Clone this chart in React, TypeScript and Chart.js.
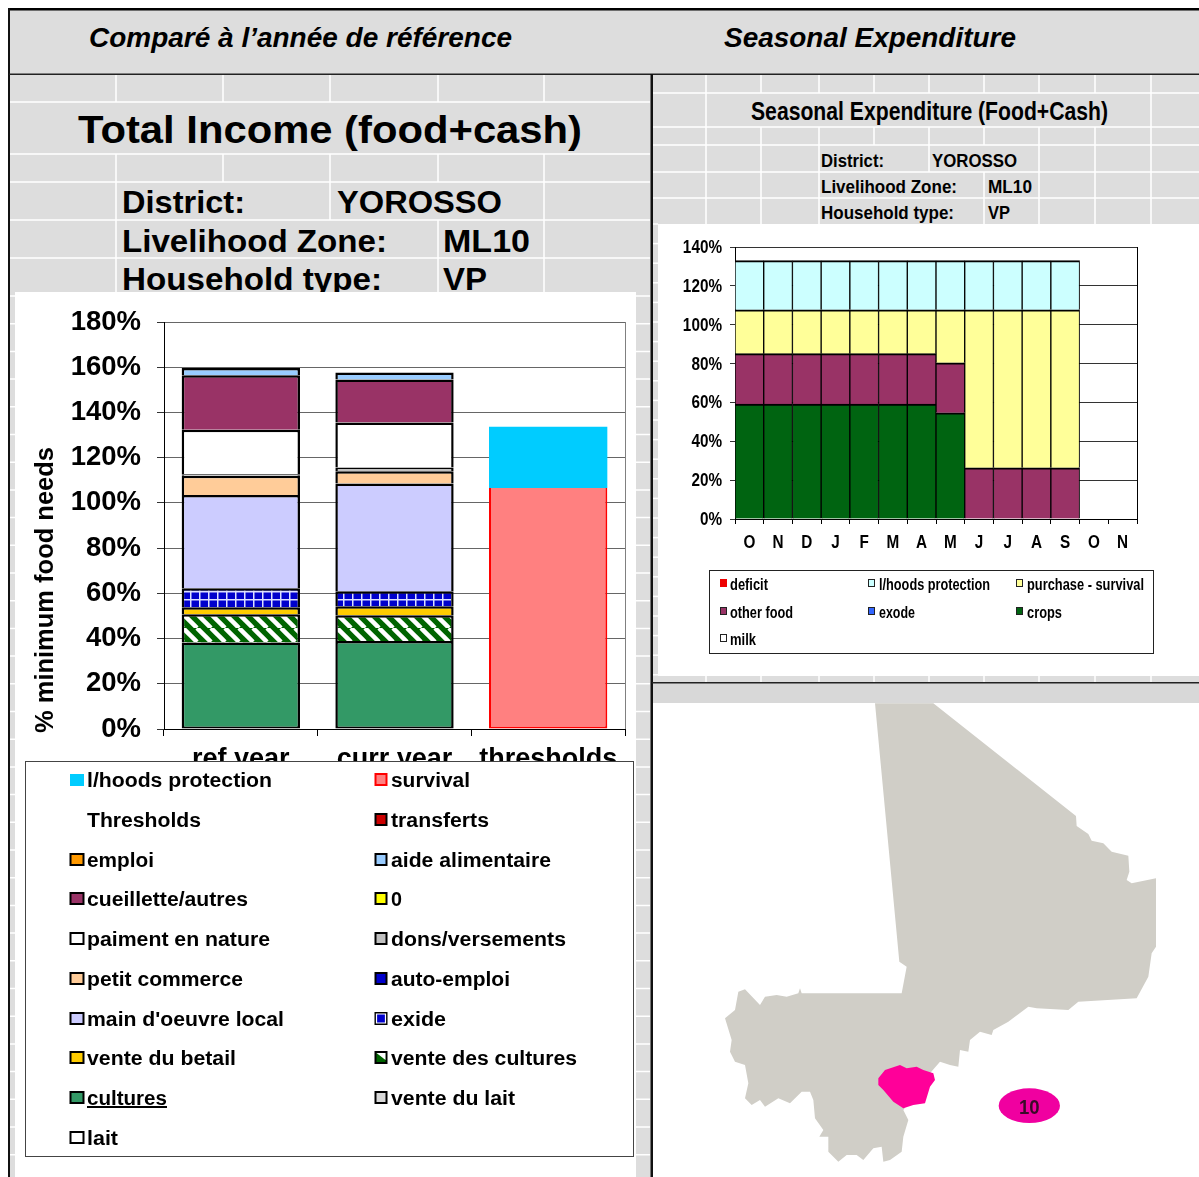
import React, { useEffect, useRef } from "react";
import { Chart, registerables } from "chart.js";

Chart.register(...registerables);

// ---------- Data: Total Income ----------
const incomeCategories = ["ref year", "curr year", "thresholds"];
const incomeTicks = [0, 20, 40, 60, 80, 100, 120, 140, 160, 180];
const lait = [0, 0, 0];
const cultures = [38.3, 38.9, 0];
const venteDuLait = [0, 0, 0];
const venteDesCultures = [12.4, 11.4, 0];
const venteDuBetail = [3.1, 4.0, 0];
const exide = [8.4, 6.6, 0];
const mainOeuvre = [41.3, 47.7, 0];
const autoEmploi = [0, 0, 0];
const petitCommerce = [8.5, 5.4, 0];
const donsVersements = [0.7, 1.7, 0];
const paimentNature = [19.7, 19.8, 0];
const zeroSeries = [0, 0, 0];
const cueillette = [24.1, 19.1, 0];
const aideAlimentaire = [3.2, 3.1, 0];
const emploi = [0, 0, 0];
const transferts = [0, 0, 0];
const survivalThreshold = [0, 0, 106.6];
const lhoodsThreshold = [0, 0, 27.1];

// ---------- Data: Seasonal Expenditure ----------
const months = ["O", "N", "D", "J", "F", "M", "A", "M", "J", "J", "A", "S", "O", "N"];
const crops = [59.2, 59.2, 59.2, 59.2, 59.2, 59.2, 59.2, 54.7, 0, 0, 0, 0, 0, 0];
const milk = [0, 0, 0, 0, 0, 0, 0, 0, 0, 0, 0, 0, 0, 0];
const exode = [0, 0, 0, 0, 0, 0, 0, 0, 0, 0, 0, 0, 0, 0];
const otherFood = [25.9, 25.9, 25.9, 25.9, 25.9, 25.9, 25.9, 25.7, 26.4, 26.4, 26.4, 26.4, 0, 0];
const purchaseSurvival = [22.6, 22.6, 22.6, 22.6, 22.6, 22.6, 22.6, 27.3, 81.3, 81.3, 81.3, 81.3, 0, 0];
const lhoodsProtection = [25.3, 25.3, 25.3, 25.3, 25.3, 25.3, 25.3, 25.3, 25.3, 25.3, 25.3, 25.3, 0, 0];
const deficit = [0, 0, 0, 0, 0, 0, 0, 0, 0, 0, 0, 0, 0, 0];

// ---------- Legend text ----------
const incomeLegendLeft = ["l/hoods protection", "Thresholds", "emploi", "cueillette/autres", "paiment en nature", "petit commerce", "main d'oeuvre local", "vente du betail", "cultures", "lait"];
const incomeLegendRight = ["survival", "transferts", "aide alimentaire", "0", "dons/versements", "auto-emploi", "exide", "vente des cultures", "vente du lait"];
const seasonLegend = ["deficit", "l/hoods protection", "purchase - survival", "other food", "exode", "crops", "milk"];

// ---------- Styles ----------
const SANS = '"Liberation Sans", Arial, sans-serif';
const GRAY = "#DDDDDD";

const swatchLeft: Record<string, string> = {
  "emploi": "#FF9900", "cueillette/autres": "#993366", "paiment en nature": "#FFFFFF", "petit commerce": "#FFCC99",
  "main d'oeuvre local": "#CCCCFF", "vente du betail": "#FFCC00", "cultures": "#339966", "lait": "#FFFFFF",
};
const swatchRight: Record<string, string> = {
  "survival": "#FF8080", "transferts": "#CC0000", "aide alimentaire": "#99CCFF", "0": "#FFFF00", "dons/versements": "#C0C0C0",
  "auto-emploi": "#0000CC", "exide": "#0000CC", "vente des cultures": "#006400", "vente du lait": "#D8D8D8",
};
const widthLeft = [185, 114, 67, 161, 183, 156, 197, 149, 80, 31];
const widthRight = [79, 98, 160, 11, 175, 119, 55, 186, 124];
const rowY = [780, 820, 860, 899, 939, 979, 1019, 1058, 1098, 1138];

const seasonColors: Record<string, string> = {
  "deficit": "#EE0000", "l/hoods protection": "#CCFFFF", "purchase - survival": "#FFFF99",
  "other food": "#993366", "exode": "#3366FF", "crops": "#006411", "milk": "#FFFFFF",
};
const seasonLayout = [
  [720, 730, 38, 584], [868, 879, 111, 584], [1016, 1027, 117, 584],
  [720, 730, 63, 612], [868, 879, 36, 612], [1016, 1027, 35, 612],
  [720, 730, 26, 639],
];

const leftColsX = [116, 223, 330, 438, 544];
const rightColsX = [706, 761, 819, 874, 929, 984, 1039, 1095, 1151];
const gutterLeftY = Array.from({ length: 32 }, (_, i) => 296 + i * 27.7);
const gutterRightY = Array.from({ length: 24 }, (_, i) => 224 + i * 19.6);

const mapOutline = "525,40 700,40 1128,378 1130,408 1165,432 1175,452 1210,460 1235,485 1285,497 1288,545 1280,570 1295,580 1368,565 1368,770 1355,790 1345,860 1310,925 1135,935 1105,960 1010,955 985,950 925,995 880,1020 875,1035 840,1025 810,1050 805,1085 780,1080 775,1130 750,1125 720,1115 690,1150 610,1260 625,1290 610,1340 605,1385 570,1410 550,1415 545,1370 520,1375 490,1410 470,1395 440,1395 415,1415 385,1385 385,1340 358,1340 370,1320 345,1285 340,1230 330,1205 305,1205 270,1240 235,1225 195,1250 180,1230 155,1245 135,1225 145,1180 135,1125 105,1115 90,1085 95,1050 75,985 105,960 115,905 135,898 180,945 195,920 230,915 260,920 295,910 300,895 305,910 605,910 620,830 598,815";
const mapZone = "535,1165 555,1140 600,1125 620,1135 650,1130 670,1140 700,1150 705,1170 690,1190 675,1240 640,1245 610,1255 580,1235 550,1200 535,1185";

function makeDiagonalPattern(): CanvasPattern {
  const c = document.createElement("canvas");
  c.width = 14; c.height = 14;
  const g = c.getContext("2d")!;
  g.fillStyle = "#006400"; g.fillRect(0, 0, 14, 14);
  g.strokeStyle = "#FFFFFF"; g.lineWidth = 4.5;
  for (const o of [-14, 0, 14]) {
    g.beginPath(); g.moveTo(o, 0); g.lineTo(o + 14, 14); g.stroke();
  }
  return g.createPattern(c, "repeat")!;
}
function makeGridPattern(): CanvasPattern {
  const c = document.createElement("canvas");
  c.width = 9; c.height = 8;
  const g = c.getContext("2d")!;
  g.fillStyle = "#0000CC"; g.fillRect(0, 0, 9, 8);
  g.fillStyle = "#DDE0FF"; g.fillRect(4, 0, 1.5, 8); g.fillRect(0, 3, 9, 1.5);
  return g.createPattern(c, "repeat")!;
}

const framePlugin = (color: string) => ({
  id: "frame",
  beforeDatasetsDraw(chart: any) {
    const { ctx, chartArea: a } = chart;
    ctx.save();
    ctx.strokeStyle = color;
    ctx.lineWidth = 1;
    ctx.beginPath();
    ctx.moveTo(a.right + 0.5, a.top);
    ctx.lineTo(a.right + 0.5, a.bottom);
    ctx.stroke();
    ctx.restore();
  },
});

// The original's small axis text is a horizontally squeezed Arial: draw it at the library's tick positions.
const squeezedTicksPlugin = {
  id: "squeezedTicks",
  afterDraw(chart: any) {
    const { ctx, scales } = chart;
    ctx.save();
    ctx.fillStyle = "#000";
    ctx.font = `bold 18px ${SANS}`;
    ctx.textBaseline = "middle";
    scales.y.ticks.forEach((t: any) => {
      ctx.save();
      ctx.translate(scales.y.right - 13, scales.y.getPixelForValue(t.value) + 1);
      ctx.scale(0.85, 1);
      ctx.textAlign = "right";
      ctx.fillText(t.value + "%", 0, 0);
      ctx.restore();
    });
    months.forEach((m, i) => {
      ctx.save();
      ctx.translate(scales.x.getPixelForTick(i), scales.x.top + 24);
      ctx.scale(0.85, 1);
      ctx.textAlign = "center";
      ctx.fillText(m, 0, 0);
      ctx.restore();
    });
    ctx.restore();
  },
};

function T(p: { x: number; y: number; w: number; s: number; t: string; italic?: boolean; u?: boolean }) {
  return (
    <text x={p.x} y={p.y} textLength={p.w} lengthAdjust="spacingAndGlyphs" fontFamily={SANS} fontWeight="bold"
      fontStyle={p.italic ? "italic" : "normal"} fontSize={p.s} fill="#000" textDecoration={p.u ? "underline" : undefined}>{p.t}</text>
  );
}

const layer: React.CSSProperties = { position: "absolute", left: 0, top: 0 };

export default function App() {
  const leftRef = useRef<HTMLCanvasElement>(null);
  const rightRef = useRef<HTMLCanvasElement>(null);

  useEffect(() => {
    const upper = { top: 2.5, left: 2.5, right: 2.5, bottom: 0 };
    const bar = (label: string, data: number[], backgroundColor: any, borderWidth: any = upper, borderColor = "#000") => ({
      label, data, backgroundColor, borderColor, borderWidth, borderSkipped: false, stack: "s",
    });
    const left = new Chart(leftRef.current!, {
      type: "bar",
      data: {
        labels: incomeCategories,
        datasets: [
          bar("lait", lait, "#FFFFFF"),
          bar("cultures", cultures, "#339966", { top: 2.5, left: 2.5, right: 2.5, bottom: 2 }),
          bar("vente du lait", venteDuLait, "#D8D8D8"),
          bar("vente des cultures", venteDesCultures, makeDiagonalPattern()),
          bar("vente du betail", venteDuBetail, "#FFCC00"),
          bar("exide", exide, makeGridPattern()),
          bar("main d'oeuvre local", mainOeuvre, "#CCCCFF"),
          bar("auto-emploi", autoEmploi, "#0000CC"),
          bar("petit commerce", petitCommerce, "#FFCC99"),
          bar("dons/versements", donsVersements, "#C0C0C0"),
          bar("paiment en nature", paimentNature, "#FFFFFF"),
          bar("0", zeroSeries, "#FFFF00"),
          bar("cueillette/autres", cueillette, "#993366"),
          bar("aide alimentaire", aideAlimentaire, "#99CCFF"),
          bar("emploi", emploi, "#FF9900"),
          bar("transferts", transferts, "#CC0000"),
          bar("survival", survivalThreshold, "#FF8080", { top: 0, left: 2, right: 2, bottom: 2 }, "#FF0000"),
          bar("l/hoods protection", lhoodsThreshold, "#00CCFF", 0, "#00CCFF"),
        ] as any,
      },
      plugins: [framePlugin("#808080")],
      options: {
        responsive: false,
        animation: false,
        layout: { padding: { left: 0, top: 30, right: 11, bottom: 388 } },
        plugins: { legend: { display: false }, tooltip: { enabled: false } },
        datasets: { bar: { barPercentage: 0.77, categoryPercentage: 1 } },
        scales: {
          x: {
            stacked: true,
            afterFit: (s: any) => { s.height = 60; s.paddingLeft = 0; s.paddingRight = 0; },
            grid: { offset: true, drawOnChartArea: false, drawTicks: true, tickLength: 7, color: "#000" },
            border: { color: "#000" },
            ticks: { autoSkip: false, maxRotation: 0, padding: 7, color: "#000", font: { family: SANS, weight: "bold", size: 27 } },
          },
          y: {
            stacked: true, min: 0, max: 180,
            afterFit: (s: any) => { s.width = 149; s.paddingTop = 0; s.paddingBottom = 0; },
            afterBuildTicks: (s: any) => { s.ticks = incomeTicks.map((value) => ({ value })); },
            grid: { color: "#666666", tickLength: 7, tickColor: "#333" },
            border: { color: "#000" },
            ticks: { padding: 16, color: "#000", callback: (v: any) => v + "%", font: { family: SANS, weight: "bold", size: 27.5 } },
          },
        },
      } as any,
    });

    const b2 = (label: string, data: number[], color: string) => ({
      label, data, backgroundColor: color, borderColor: "#000", borderWidth: { top: 2, left: 1, right: 1, bottom: 0 }, borderSkipped: false, stack: "s",
    });
    const right = new Chart(rightRef.current!, {
      type: "bar",
      data: {
        labels: months,
        datasets: [
          b2("crops", crops, seasonColors["crops"]),
          b2("milk", milk, seasonColors["milk"]),
          b2("exode", exode, seasonColors["exode"]),
          b2("other food", otherFood, seasonColors["other food"]),
          b2("purchase - survival", purchaseSurvival, seasonColors["purchase - survival"]),
          b2("l/hoods protection", lhoodsProtection, seasonColors["l/hoods protection"]),
          b2("deficit", deficit, seasonColors["deficit"]),
        ] as any,
      },
      plugins: [framePlugin("#000000"), squeezedTicksPlugin],
      options: {
        responsive: false,
        animation: false,
        layout: { padding: { left: 0, top: 23, right: 62, bottom: 117 } },
        plugins: { legend: { display: false }, tooltip: { enabled: false } },
        datasets: { bar: { barPercentage: 1, categoryPercentage: 1 } },
        scales: {
          x: {
            stacked: true,
            afterFit: (s: any) => { s.height = 40; },
            grid: { offset: true, drawOnChartArea: false, drawTicks: true, tickLength: 5, color: "#000" },
            border: { color: "#000" },
            ticks: { autoSkip: false, display: false },
          },
          y: {
            stacked: true, min: 0, max: 140,
            afterFit: (s: any) => { s.width = 77; },
            grid: { color: "#333333", tickLength: 5 },
            border: { color: "#000" },
            ticks: { stepSize: 20, display: false },
          },
        },
      } as any,
    });
    return () => { left.destroy(); right.destroy(); };
  }, []);

  return (
    <div style={{ position: "absolute", left: 0, top: 0, width: 1199, height: 1177, overflow: "hidden", background: "#fff" }}>
      {/* Sheet background */}
      <svg width={1199} height={1177} style={layer}>
        <rect x={9} y={10} width={1190} height={65} fill={GRAY} />
        <rect x={9} y={75} width={642} height={1102} fill={GRAY} />
        <rect x={652} y={75} width={547} height={608} fill={GRAY} />
        <g stroke="#fff" strokeWidth={1.5}>
          {[102, 154, 182, 220, 258].map((y) => <line key={y} x1={10} x2={650} y1={y} y2={y} />)}
          {gutterLeftY.map((y) => <line key={y} x1={10} x2={650} y1={y} y2={y} />)}
          {leftColsX.map((x) => <line key={x} x1={x} x2={x} y1={75} y2={102} />)}
          {leftColsX.map((x) => <line key={x} x1={x} x2={x} y1={154} y2={182} />)}
          {[116, 330, 544].map((x) => <line key={x} x1={x} x2={x} y1={182} y2={220} />)}
          {[116, 438, 544].map((x) => <line key={x} x1={x} x2={x} y1={220} y2={297} />)}
          {[93, 127, 145, 172, 198].map((y) => <line key={y} x1={653} x2={1199} y1={y} y2={y} />)}
          {gutterRightY.map((y) => <line key={y} x1={653} x2={658} y1={y} y2={y} />)}
          {rightColsX.map((x) => <line key={x} x1={x} x2={x} y1={75} y2={93} />)}
          {[706, 1151].map((x) => <line key={x} x1={x} x2={x} y1={93} y2={127} />)}
          {rightColsX.map((x) => <line key={x} x1={x} x2={x} y1={127} y2={145} />)}
          {[706, 761, 819, 929, 1039, 1095, 1151].map((x) => <line key={x} x1={x} x2={x} y1={145} y2={172} />)}
          {[706, 761, 819, 984, 1039, 1095, 1151].map((x) => <line key={x} x1={x} x2={x} y1={172} y2={224} />)}
          {rightColsX.map((x) => <line key={x} x1={x} x2={x} y1={676} y2={682} />)}
        </g>
        <rect x={652} y={683} width={547} height={20} fill="#D8D8D8" />
        <rect x={652} y={703} width={547} height={474} fill="#fff" />
        {/* Sheet rules */}
        <rect x={8} y={8} width={1191} height={2.5} fill="#000" />
        <rect x={8} y={8} width={2} height={1169} fill="#111" />
        <rect x={9} y={73.5} width={1190} height={1.5} fill="#222" />
        <rect x={650.5} y={74} width={2.5} height={1103} fill="#111" />
        <rect x={652} y={682} width={547} height={1.5} fill="#222" />
        {/* Headings */}
        <T x={89} y={47} w={423} s={28} t="Comparé à l’année de référence" italic />
        <T x={724} y={47} w={292} s={28} t="Seasonal Expenditure" italic />
        <T x={78} y={143} w={504} s={39} t="Total Income (food+cash)" />
        <T x={122} y={213} w={123} s={31} t="District:" />
        <T x={337} y={213} w={165} s={31} t="YOROSSO" />
        <T x={122} y={252} w={265} s={31} t="Livelihood Zone:" />
        <T x={443} y={252} w={87} s={31} t="ML10" />
        <T x={122} y={290} w={260} s={31} t="Household type:" />
        <T x={443} y={290} w={44} s={31} t="VP" />
        <T x={751} y={120} w={357} s={25} t="Seasonal Expenditure (Food+Cash)" />
        <T x={821} y={167} w={63} s={19} t="District:" />
        <T x={932} y={167} w={85} s={19} t="YOROSSO" />
        <T x={821} y={193} w={136} s={19} t="Livelihood Zone:" />
        <T x={988} y={193} w={44} s={19} t="ML10" />
        <T x={821} y={219} w={133} s={19} t="Household type:" />
        <T x={988} y={219} w={22} s={19} t="VP" />
      </svg>

      {/* Charts */}
      <canvas ref={leftRef} width={621} height={885} style={{ position: "absolute", left: 15, top: 292, width: 621, height: 885, background: "#fff", display: "block" }} />
      <canvas ref={rightRef} width={541} height={452} style={{ position: "absolute", left: 658, top: 224, width: 541, height: 452, background: "#fff", display: "block" }} />

      {/* Axis title, legends and map */}
      <svg width={1199} height={1177} style={layer}>
        <g transform="translate(53 733) rotate(-90)">
          <T x={0} y={0} w={286} s={25} t="% minimum food needs" />
        </g>

        <rect x={25.5} y={761.5} width={608} height={395} fill="#fff" stroke="#444" strokeWidth={1} />
        {incomeLegendLeft.map((name, i) => {
          const y = rowY[i];
          return (
            <g key={name}>
              {name === "l/hoods protection" && <rect x={70} y={y - 6} width={14} height={12} fill="#00CCFF" />}
              {swatchLeft[name] && <rect x={70.5} y={y - 6} width={13} height={11} fill={swatchLeft[name]} stroke="#000" strokeWidth={2} />}
              <T x={87} y={y + 7} w={widthLeft[i]} s={20} t={name} u={name === "cultures"} />
            </g>
          );
        })}
        {incomeLegendRight.map((name, i) => {
          const y = rowY[i];
          return (
            <g key={name}>
              <rect x={375.5} y={y - 6} width={11} height={11} fill={swatchRight[name]} stroke={name === "survival" ? "#FF0000" : "#000"} strokeWidth={2} />
              {name === "exide" && <path d={`M376.5 ${y - 5} h9 v9 h-9 z`} fill="none" stroke="#fff" strokeWidth={1.2} />}
              {name === "vente des cultures" && <path d={`M376.5 ${y - 5} l9 7 v-7 z`} fill="#fff" />}
              <T x={391} y={y + 7} w={widthRight[i]} s={20} t={name} />
            </g>
          );
        })}

        <rect x={709.5} y={570.5} width={444} height={83} fill="#fff" stroke="#222" strokeWidth={1} />
        {seasonLegend.map((name, i) => {
          const [sx, tx, w, y] = seasonLayout[i];
          return (
            <g key={name}>
              <rect x={sx + 0.5} y={y - 4.5} width={6} height={7} fill={seasonColors[name]} stroke={name === "deficit" ? seasonColors[name] : "#222"} strokeWidth={1} />
              <T x={tx} y={y + 6} w={w} s={17} t={name} />
            </g>
          );
        })}

        <g transform="translate(700 690) scale(0.33333)" style={{ filter: "blur(0.4px)" }}>
          <polygon points={mapOutline} fill="#D0CEC7" />
          <polygon points={mapZone} fill="#FF0099" />
          <ellipse cx={988} cy={1247} rx={92} ry={52} fill="#F000A0" />
          <text x={988} y={1271} textAnchor="middle" fontFamily={SANS} fontWeight="bold" fontSize={60} fill="#3A0A28" textLength={62} lengthAdjust="spacingAndGlyphs">10</text>
        </g>
      </svg>
    </div>
  );
}
